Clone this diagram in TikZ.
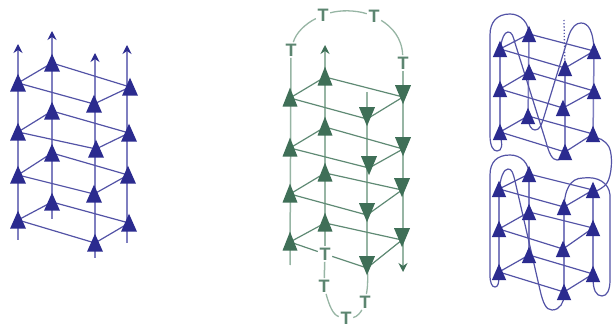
\documentclass[tikz,border=0pt]{standalone}
\usepackage{fontspec}
\setsansfont{Liberation Sans}
\usetikzlibrary{arrows.meta,shapes.geometric,backgrounds}
\definecolor{bluetri}{HTML}{2B2B8F}
\definecolor{bluerail}{HTML}{7F7FC0}
\definecolor{blueedge}{HTML}{5353A6}
\definecolor{greentri}{HTML}{3F6F57}
\definecolor{greenrail}{HTML}{97B5A4}
\definecolor{greenedge}{HTML}{5F8A74}
\tikzset{
  tri/.style={isosceles triangle,isosceles triangle stretches,minimum height=18pt,minimum width=16pt,inner sep=0pt,draw=none,anchor=center},
  up/.style={tri,shape border rotate=90,yshift=-3.5pt},
  dn/.style={tri,shape border rotate=270,yshift=3.5pt},
  bup/.style={up,fill=bluetri},
  pup/.style={up,fill=bluetri,minimum height=16.5pt,minimum width=14.5pt},
  gup/.style={up,fill=greentri,minimum height=19pt,minimum width=15pt},
  gdn/.style={dn,fill=greentri,minimum height=19pt,minimum width=16pt},
  brail/.style={draw=bluerail,line width=1.5pt},
  bedge/.style={draw=blueedge,line width=1.2pt},
  grail/.style={draw=greenrail,line width=1.5pt},
  gedge/.style={draw=greenedge,line width=1.2pt},
  loopb/.style={draw=blueedge,line width=1.2pt},
  loopg/.style={draw=greenrail,line width=1.3pt},
  tee/.style={font=\sffamily\bfseries\fontsize{18}{18}\selectfont,text=greentri!85,inner sep=1.5pt},
  btip/.style={-{Stealth[length=9pt,width=9pt,color=bluetri]}},
  gtip/.style={-{Stealth[length=9pt,width=9pt,color=greentri]}},
}
\begin{document}
\begin{tikzpicture}[x=1pt,y=-1pt]
\useasboundingbox (0,0) rectangle (615,328);
% ---------- panel 1 nodes
\foreach \n/\x/\y in {a1/18/83,b1/52/63,c1/94/104,d1/130/87,
                      a2/18/132,b2/52/111,c2/96/149,d2/129/133,
                      a3/18/175,b3/52/153,c3/94/194,d3/128/175,
                      a4/18/220,b4/52/202,c4/95/243,d4/129/223}
  \node[bup] (\n) at (\x,\y) {};
% ---------- panel 2 nodes
\foreach \n/\x/\y in {ga1/290/98,gb1/325/77,ga2/290/148,gb2/325/127,
                      ga3/290/194,gb3/325/173,ga4/290/242,gb4/325/223}
  \node[gup] (\n) at (\x,\y) {};
\foreach \n/\x/\y in {gc1/367/116,gd1/403/94,gc2/369/165,gd2/403/146,
                      gc3/367/212,gd3/402/187,gc4/367/265,gd4/402/237}
  \node[gdn] (\n) at (\x,\y) {};
% ---------- panel 3 nodes
\foreach \n/\x/\y in {pa1/500/49,pb1/529/34,pc1/565/68,pd1/594/51,
                      pa2/500/89,pb2/529/72,pc2/563/108,pd2/594/91,
                      pa3/500/132,pb3/528/116,pc3/565/152,pd3/593/134,
                      qa1/499/189,qb1/529/174,qc1/564/207,qd1/593/190,
                      qa2/499/229,qb2/529/212,qc2/563/249,qd2/593/228,
                      qa3/499/272,qb3/529/255,qc3/564/292,qd3/593/274}
  \node[pup] (\n) at (\x,\y) {};
% ---------- T labels
\node[tee] (t1) at (291,50) {T};
\node[tee] (t2) at (323,15) {T};
\node[tee] (t3) at (374,16) {T};
\node[tee] (t4) at (403,63) {T};
\node[tee] (t5) at (325,254) {T};
\node[tee] (t6) at (324,286) {T};
\node[tee] (t7) at (365,302) {T};
\node[tee] (t8) at (346,318.5) {T};
% ---------- free ends
\foreach \n/\x/\y in {ea/18/44,eb/52/31,ec/95/53,ed/127/45,
                      fa/18/240,fb/52/219,fc/95/258,fd/127/243,
                      hb/325/45,ha/290/265,hc/367/92,hd/403/272,
                      dtop/564/20}
  \coordinate (\n) at (\x,\y);
\begin{scope}[on background layer]
  % panel 1
  \draw[brail,btip] (fa) -- (ea);
  \draw[brail,btip] (fb) -- (eb);
  \draw[brail,btip] (fc) -- (ec);
  \draw[brail,btip] (fd) -- (ed);
  \foreach \i in {1,2,3,4}{
    \draw[bedge] ([yshift=3.5pt]a\i.center) -- ([yshift=3.5pt]b\i.center) -- ([yshift=3.5pt]d\i.center) -- ([yshift=3.5pt]c\i.center) -- cycle;
  }
  % panel 2
  \draw[grail] (t1) -- (ha);
  \draw[grail,gtip] (t5) -- (hb);
  \draw[grail] (hc) -- (gc4.center);
  \draw[grail,gtip] (t4) -- (hd);
  \foreach \i in {1,2,3}{
    \draw[gedge] ([yshift=3.5pt]ga\i.center) -- ([yshift=3.5pt]gb\i.center) -- ([yshift=-6.5pt]gd\i.center) -- ([yshift=-6.5pt]gc\i.center) -- cycle;
  }
  \draw[gedge] ([yshift=3.5pt]ga4.center) -- ([yshift=3.5pt]gb4.center) -- ([yshift=-6.5pt]gd4.center) -- ([yshift=-6.5pt]gc4.center);
  \draw[gedge] ([yshift=3.5pt]ga4.center) -- (t5);
  \draw[gedge] (t5) -- ([yshift=-6.5pt]gc4.center);
  \draw[grail] (t5) -- (t6);
  \draw[loopg] (t1) .. controls (296,33) and (305,24) .. (t2);
  \draw[loopg] (t2) .. controls (340,10) and (355,10) .. (t3);
  \draw[loopg] (t3) .. controls (392,27) and (402,38) .. (t4);
  \draw[loopg] (gc4.center) .. controls (368,278) and (368,285) .. (t7);
  \draw[loopg] (t7) .. controls (361,312) and (357,317) .. (t8);
  \draw[loopg] (t6) .. controls (329,305) and (333,315) .. (t8);
  % panel 3 rails and edges
  \foreach \p in {p,q}{
    \foreach \c in {a,b,c,d}{
      \draw[brail] (\p\c1.center) -- (\p\c3.center);
    }
    \foreach \i in {1,2,3}{
      \draw[bedge] ([yshift=3.5pt]\p a\i.center) -- ([yshift=3.5pt]\p b\i.center) -- ([yshift=3.5pt]\p d\i.center) -- ([yshift=3.5pt]\p c\i.center) -- cycle;
    }
  }
  % upper loops
  \draw[loopb] (pb1.center) .. controls (530,22) and (520,14) .. (510,14)
     .. controls (497,14) and (490,22) .. (490,35)
     -- (490,135) .. controls (490,146) and (493,151) .. (497,151)
     .. controls (502,151) and (503,145) .. (pa3.center);
  \draw[loopb] (pa1.center) .. controls (501,38) and (505,32) .. (508,32)
     .. controls (512,32) and (513,36) .. (515,43)
     -- (546,142) .. controls (549,153) and (552,160) .. (557,160)
     .. controls (562,160) and (565,156) .. (pc3.center);
  \draw[loopb] (pb3.center) .. controls (529,125) and (531,130) .. (535,130)
     .. controls (539,130) and (541,126) .. (543,120)
     -- (569,35) .. controls (572,27) and (576,23) .. (581,23)
     .. controls (588,23) and (594,30) .. (pd1.center);
  \draw[loopb,dotted,line width=1.3pt] (dtop) -- (pc1.center);
  % link between the two parts
  \draw[loopb] (pd3.center) .. controls (598,137) and (605,140) .. (609,147)
     .. controls (613,155) and (612,175) .. (607,183)
     .. controls (604,188) and (597,190) .. (qd1.center);
  % lower loops
  \draw[loopb] (qb1.center) .. controls (530,162) and (520,155) .. (510,155)
     .. controls (497,155) and (490,162) .. (490,175)
     -- (490,275) .. controls (490,283) and (492,287) .. (495,287)
     .. controls (498,287) and (499,283) .. (qa3.center);
  \draw[loopb] (qa1.center) .. controls (500,177) and (504,169) .. (508,169)
     .. controls (512,169) and (513,173) .. (515,181)
     -- (540,290) .. controls (543,303) and (546,310) .. (552,310)
     .. controls (560,310) and (564,302) .. (qc3.center);
  \draw[loopb] (qc1.center) .. controls (564,190) and (570,178) .. (583,178)
     .. controls (598,176) and (609,183) .. (610,195)
     -- (610,280) .. controls (610,290) and (607,296) .. (602,296)
     .. controls (596,296) and (593,290) .. (qd3.center);
\end{scope}
\end{tikzpicture}
\end{document}
